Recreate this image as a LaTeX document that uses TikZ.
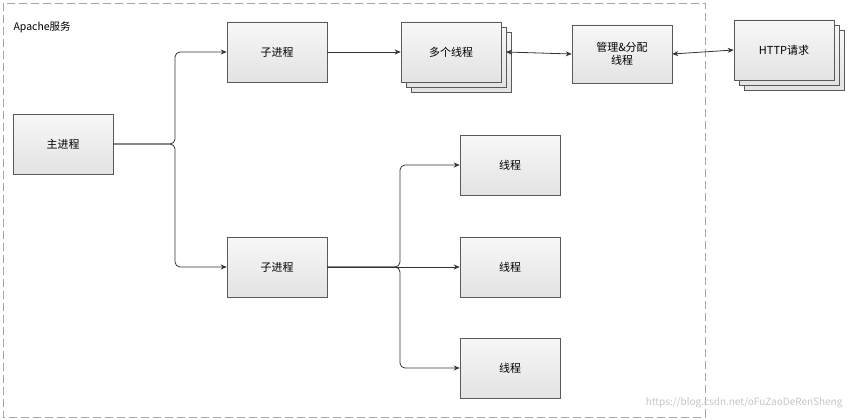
\documentclass[tikz,border=0pt]{standalone}
\usepackage{fontspec}
\setmainfont{Noto Sans CJK SC}
\usetikzlibrary{arrows.meta}
\begin{document}
\begin{tikzpicture}[x=1pt,y=-1pt,
  box/.style={draw=gray!70!black,line width=0.6pt,top color=gray!6,bottom color=gray!22,minimum width=100pt,minimum height=60pt,font=\fontsize{11}{13}\selectfont,align=center,inner sep=1pt},
  conn/.style={draw=black!80,line width=0.8pt,rounded corners=5pt},
  arr/.style={-{Stealth[length=6pt,width=5pt]}},
  darr/.style={{Stealth[length=6pt,width=5pt]}-{Stealth[length=6pt,width=5pt]}}]
\useasboundingbox (0,0) rectangle (849,420);
\fill[white] (0,0) rectangle (849,420);
\draw[gray!70,dashed,dash pattern=on 8pt off 4pt,line width=0.8pt] (3,3) rectangle (705,417);
\node[anchor=west,font=\fontsize{10.5}{12}\selectfont] (title) at (10,27) {Apache服务};
\node[box] (main) at (63,144) {主进程};
\node[box] (c1) at (277,52) {子进程};
\node[box] at (461,62) {};
\node[box] at (456,57) {};
\node[box] (many) at (451,52) {多个线程};
\node[box,minimum height=58pt] (mgr) at (622,54) {管理\&分配\\线程};
\node[box] at (794,60) {};
\node[box] at (789,55) {};
\node[box] (http) at (784,50) {HTTP请求};
\node[box] (c2) at (277,267) {子进程};
\node[box] (t1) at (510,165) {线程};
\node[box] (t2) at (510,267) {线程};
\node[box] (t3) at (510,368) {线程};
\coordinate (b1) at (175,144);
\coordinate (b2) at (400,267);
\draw[conn,arr] (main.east) -- (b1) |- (c1.west);
\draw[conn,arr] (main.east) -- (b1) |- (c2.west);
\draw[conn,arr] (c1.east) -- (many.west);
\draw[conn,darr] (many.east -| 506,0) -- (mgr.west);
\draw[conn,darr] (mgr.east) -- (http.west);
\draw[conn,arr] (c2.east) -- (b2) |- (t1.west);
\draw[conn,arr] (c2.east) -- (t2.west);
\draw[conn,arr] (c2.east) -- (b2) |- (t3.west);
\node[anchor=south east,text=gray!45,font=\fontsize{10}{12}\selectfont] (wm) at (846,412) {https://blog.csdn.net/oFuZaoDeRenSheng};
\end{tikzpicture}
\end{document}
